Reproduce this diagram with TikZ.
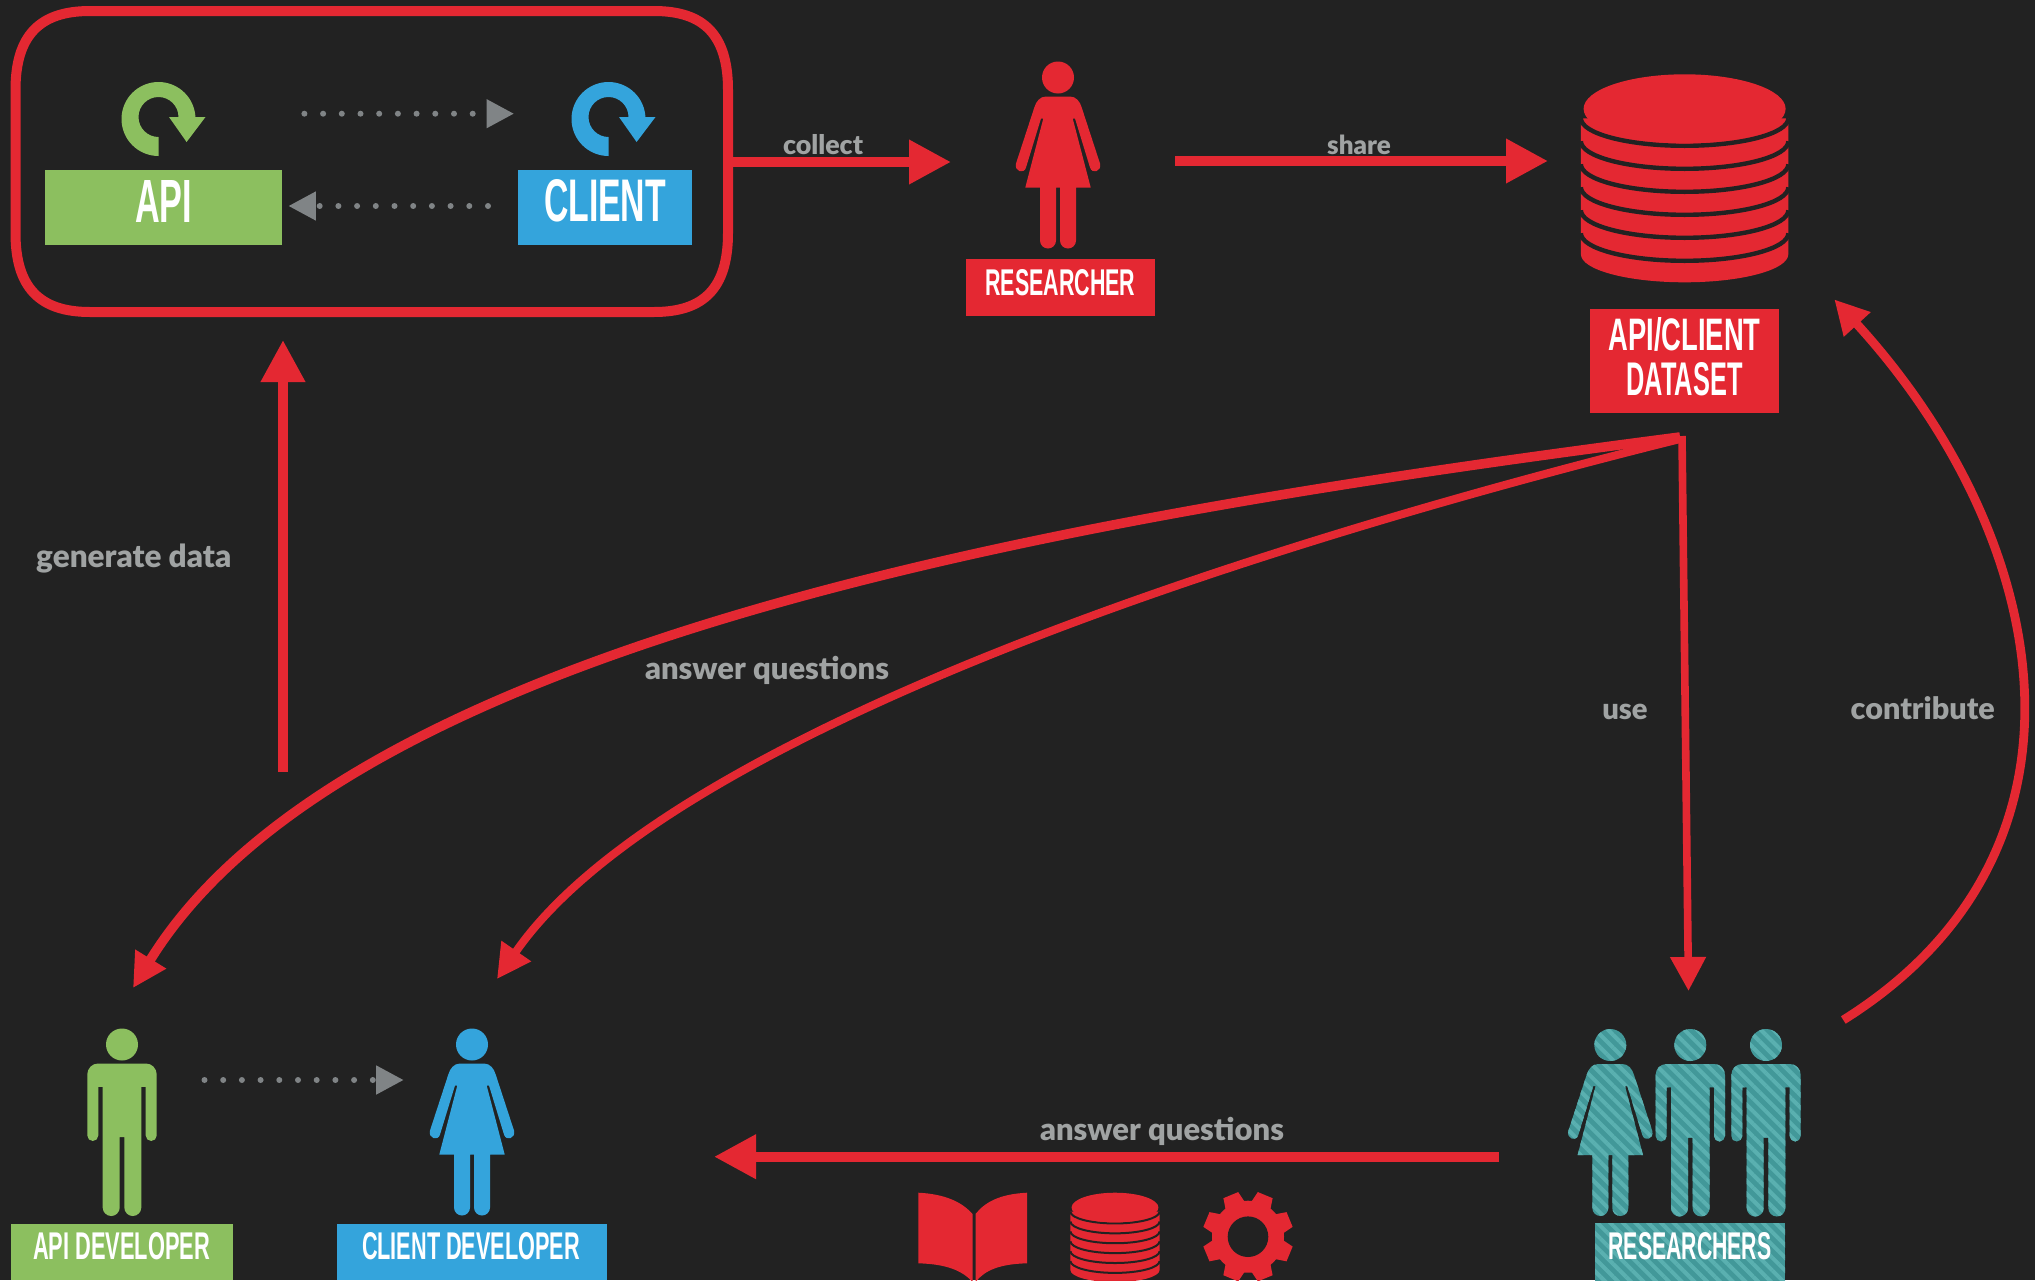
\documentclass[tikz,border=0pt]{standalone}
\usepackage{fontspec}
\usepackage{graphicx}
\usetikzlibrary{arrows.meta,patterns.meta}
\setmainfont{Liberation Sans}
\newfontfamily\labfont{Lato Black}
\definecolor{bgc}{HTML}{222222}
\definecolor{redc}{HTML}{E42832}
\definecolor{greenc}{HTML}{8CBF5F}
\definecolor{bluec}{HTML}{34A4DC}
\definecolor{tealc}{HTML}{429899}
\definecolor{teall}{HTML}{5AB0B0}
\definecolor{greyt}{HTML}{A0A3A3}
\definecolor{greya}{HTML}{808486}
\tikzset{
  redarrow/.style={draw=redc,line width=5pt,-{Triangle[length=21pt,width=21pt]},fill=none},
  curvearrow/.style={draw=redc,line width=#1,-{Triangle[length=17pt,width=17pt]},fill=none},
  dotarrow/.style={draw=greya,fill=none,line width=3pt,line cap=round,dash pattern=on 0pt off 9.35pt,-{Triangle[length=13.75pt,width=13.75pt]}},
  capbox/.style={inner sep=0pt,outer sep=0pt,text=white,font=\bfseries},
  lab/.style={inner sep=0pt,anchor=base,text=greyt,font=\labfont\fontsize{15}{17}\selectfont},
  redfig/.style={fill=redc},
  greenfig/.style={fill=greenc},
  bluefig/.style={fill=bluec},
  tealfig/.style={preaction={fill=tealc},pattern={Lines[angle=-45,distance=4.5pt,line width=2pt]},pattern color=teall},
}
\newcommand{\personM}[3]{%
 \begin{scope}[shift={(#1,#2)}]
  \path[#3] (0,16) circle[radius=16];
  \path[#3] (-24,35) -- (24,35) .. controls (30,35) and (34.7,40) .. (34.7,46) -- (34.7,107)
   arc[start angle=0,end angle=180,radius=5.5] -- (23.7,58.3) -- (19.3,58.3) -- (19.3,179)
   arc[start angle=0,end angle=180,radius=8.5] -- (2.3,108.7) -- (-2.3,108.7) -- (-2.3,179)
   arc[start angle=0,end angle=180,radius=8.5] -- (-19.3,58.3) -- (-23.7,58.3) -- (-23.7,107)
   arc[start angle=0,end angle=180,radius=5.5] -- (-34.7,46) .. controls (-34.7,40) and (-30,35) .. (-24,35) -- cycle;
 \end{scope}}
\newcommand{\personF}[3]{%
 \begin{scope}[shift={(#1,#2)}]
  \path[#3] (0,16) circle[radius=16];
  \path[#3] (-12,35) -- (12,35) .. controls (18,35) and (22,40) .. (23.7,46) -- (42,102)
   .. controls (44,110) and (34,113) .. (32,106) -- (17,57) -- (14.7,57) -- (32.7,126) -- (18,126) -- (18,179)
   arc[start angle=0,end angle=180,radius=8] -- (2,126) -- (-2,126) -- (-2,179)
   arc[start angle=0,end angle=180,radius=8] -- (-18,126) -- (-32.7,126) -- (-14.7,57) -- (-17,57) -- (-32,106)
   .. controls (-34,113) and (-44,110) .. (-42,102) -- (-23.7,46) .. controls (-22,40) and (-18,35) .. (-12,35) -- cycle;
 \end{scope}}
% database: centre x, top y, scale, gap line width
\newcommand{\dbicon}[4]{%
 \begin{scope}[shift={(#1,#2)},scale=#3]
  \fill[redc] (-103.7,44) -- (103.7,44) -- (103.7,180) arc[start angle=0,end angle=180,x radius=103.7,y radius=28] -- cycle;
  \foreach \yy in {44,67,90,113,136,159}
    \draw[bgc,line width=#4] (-103.7,\yy) arc[start angle=180,end angle=0,x radius=103.7,y radius=27.5];
  \fill[redc] (0,34.5) circle[x radius=101,y radius=34.5];
 \end{scope}}
\newcommand{\refresh}[2]{%
 \begin{scope}[shift={(#1,0)}]
  \fill[#2] (158.5,156) arc[start angle=90,end angle=360,radius=37] -- (178.5,117) 
     arc[start angle=0,end angle=-270,radius=20] -- cycle;
  \fill[#2] (169,117) -- (205.5,117) -- (186.6,142) -- cycle;
 \end{scope}}
\newcommand{\capt}[5]{\node[capbox] (#1) at (#2) {\resizebox{#3pt}{#4pt}{#5}};}
\newcommand{\grlab}[4]{\node[lab] (#1) at (#2) {\resizebox{#3pt}{!}{#4}};}
\begin{document}
\begin{tikzpicture}[x=0.5pt,y=-0.5pt]
\useasboundingbox (0,0) rectangle (2035,1280);
\fill[bgc] (0,0) rectangle (2035,1280);
\clip (0,0) rectangle (2035,1280);

% coordinates for connectors
\coordinate (boxE) at (733,162);
\coordinate (researcherW) at (951,162);
\coordinate (researcherE) at (1175,161);
\coordinate (dbW) at (1548,161);
\coordinate (devUp) at (283,772);
\coordinate (boxS) at (283,340);
\coordinate (dsOut) at (1680,437);
\coordinate (dsOutB) at (1680,439);
\coordinate (dsOutC) at (1682,436);
\coordinate (apiDevIn) at (133,988);
\coordinate (cliDevIn) at (497,979);
\coordinate (resIn) at (1688.5,991);
\coordinate (resOut) at (1843.3,1020);
\coordinate (dsIn) at (1834.3,299.4);
\coordinate (resW) at (1499,1156.7);
\coordinate (cliE) at (714,1156.7);
\coordinate (d1a) at (304.4,113.7);
\coordinate (d1b) at (514,113.7);
\coordinate (d2a) at (488,206);
\coordinate (d2b) at (288.4,206);
\coordinate (d3a) at (204.5,1080);
\coordinate (d3b) at (403.7,1080);

% rounded system box
\draw[redc,line width=5pt,line join=round] (15.5,90) .. controls (15.5,35) and (40,11) .. (90,11)
  -- (654,11) .. controls (704,11) and (728,35) .. (728,90)
  -- (728,233) .. controls (728,288) and (704,312) .. (654,312)
  -- (90,312) .. controls (40,312) and (15.5,288) .. (15.5,233) -- cycle;

% API / CLIENT
\refresh{0}{greenc}
\refresh{450}{bluec}
\node[fill=greenc,minimum width=118.5pt,minimum height=37.5pt,inner sep=0pt] (apiBox) at (163.5,207.5) {};
\node[fill=bluec,minimum width=87pt,minimum height=37.5pt,inner sep=0pt] (clientBox) at (605,207.5) {};
\capt{apiTxt}{163.5,201}{28.5}{21}{API}
\capt{clientTxt}{605,201}{61}{21}{CLIENT}
\draw[dotarrow] (d1a) -- (d1b);
\draw[dotarrow] (d2a) -- (d2b);

% researcher
\personF{1058}{61.5}{redfig}
\node[fill=redc,minimum width=94.7pt,minimum height=28.5pt,inner sep=0pt] (resBox) at (1060.6,287.3) {};
\capt{resTxt}{1060.4,282.7}{75}{13}{RESEARCHER}

% dataset
\dbicon{1684.6}{74.3}{1}{2.2pt}
\node[fill=redc,minimum width=94.4pt,minimum height=51.8pt,inner sep=0pt] (dsBox) at (1684.6,360.8) {};
\capt{dsTxtA}{1684.6,334}{76}{16.5}{API/CLIENT}
\capt{dsTxtB}{1684.6,379}{58}{16.5}{DATASET}

% connectors
\draw[redarrow] (boxE) -- (researcherW);
\draw[redarrow] (researcherE) -- (dbW);
\draw[redarrow] (devUp) -- (boxS);
\draw[curvearrow=4.8pt] (dsOut) .. controls (1118,510) and (353,630) .. (apiDevIn);
\draw[curvearrow=4pt] (dsOutB) .. controls (1178,564) and (656,749) .. (cliDevIn);
\draw[curvearrow=3.8pt] (dsOutC) -- (resIn);
\draw[curvearrow=4.4pt] (resOut) .. controls (2115,850) and (2050,535) .. (dsIn);
\draw[redarrow] (resW) -- (cliE);

% developers
\personM{122}{1028.5}{greenfig}
\personF{472}{1028.5}{bluefig}
\draw[dotarrow] (d3a) -- (d3b);
\node[fill=greenc,minimum width=111pt,minimum height=28pt,inner sep=0pt] (apiDevBox) at (122,1252) {};
\node[fill=bluec,minimum width=135pt,minimum height=28pt,inner sep=0pt] (cliDevBox) at (472,1252) {};
\capt{apiDevTxt}{121.6,1245.7}{88.5}{13.5}{API DEVELOPER}
\capt{cliDevTxt}{471,1245.7}{109}{13.5}{CLIENT DEVELOPER}

% researchers group
\personF{1610.3}{1029}{tealfig}
\personM{1690.3}{1029}{tealfig}
\personM{1766}{1029}{tealfig}
\path[tealfig] (1595,1223) rectangle (1785,1290);
\capt{groupTxt}{1690,1245.7}{81.5}{13.5}{RESEARCHERS}

% small icons
\fill[redc] (918.3,1192.7) .. controls (945,1194) and (962,1202) .. (972.5,1214) -- (972.5,1282) .. controls (962,1270) and (945,1264) .. (918.3,1263.3) -- cycle;
\fill[redc] (1027,1192.7) .. controls (1000,1194) and (985,1202) .. (975.5,1214) -- (975.5,1282) .. controls (985,1270) and (1000,1264) .. (1027,1263.3) -- cycle;
\dbicon{1115}{1192.7}{0.43}{1pt}
\begin{scope}[shift={(1248,1236.7)}]
  \fill[redc] (0,0) circle[radius=36];
  \foreach \aa in {22.5,67.5,...,337.5}
    \fill[redc,rotate=\aa] (-11,-30) -- (-8,-45) -- (8,-45) -- (11,-30) -- cycle;
  \fill[bgc] (0,0) circle[radius=20.3];
\end{scope}

% labels
\grlab{collectLab}{823,154.2}{40}{collect}
\grlab{shareLab}{1359,154.2}{31.8}{share}
\grlab{genLab}{133.7,567.8}{97.5}{generate data}
\grlab{ansLabA}{767,679.3}{122}{answer questions}
\grlab{useLab}{1625,719.2}{22.7}{use}
\grlab{conLab}{1922.7,719.5}{72}{contribute}
\grlab{ansLabB}{1162,1140.3}{122}{answer questions}
\end{tikzpicture}
\end{document}
